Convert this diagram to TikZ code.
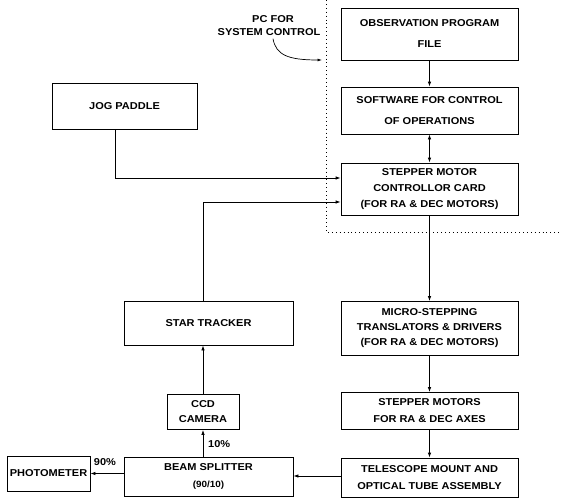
\documentclass[tikz,border=0pt]{standalone}
\usepackage{fontspec}
\setmainfont{Liberation Sans}[FakeStretch=1.1]
\usetikzlibrary{arrows.meta,calc}
\begin{document}
\begin{tikzpicture}[x=1pt,y=-1pt,
  box/.style={draw,line width=0.8pt,inner sep=0pt,align=center,font=\fontsize{10}{16}\selectfont\bfseries},
  lbl/.style={inner sep=0pt,align=center,font=\fontsize{10}{14}\selectfont\bfseries},
  arr/.style={line width=0.8pt,-{Latex[length=5pt,width=3.5pt]}},
  darr/.style={line width=0.8pt,{Latex[length=5pt,width=3.5pt]}-{Latex[length=5pt,width=3.5pt]}},
  dotline/.style={line width=0.9pt,dash pattern=on 0.9pt off 3pt}]
\useasboundingbox (0,0) rectangle (561,501);
% boxes
\node[box,minimum width=177pt,minimum height=52pt] (obs) at (429.5,34) {OBSERVATION PROGRAM\\[5pt]FILE};
\node[box,minimum width=177pt,minimum height=47pt] (soft) at (429.5,110.5) {SOFTWARE FOR CONTROL\\[5pt]OF OPERATIONS};
\node[box,minimum width=177pt,minimum height=52pt] (card) at (429.5,189) {STEPPER MOTOR\\CONTROLLOR CARD\\(FOR RA \& DEC MOTORS)};
\node[box,minimum width=145pt,minimum height=46pt] (jog) at (124.5,106) {JOG PADDLE};
\node[box,minimum width=169pt,minimum height=44pt] (star) at (208.5,323) {STAR TRACKER};
\node[box,minimum width=177pt,minimum height=54pt] (micro) at (429.5,328.5) {MICRO-STEPPING\\[-1pt]TRANSLATORS \& DRIVERS\\[-1pt](FOR RA \& DEC MOTORS)};
\node[box,minimum width=177pt,minimum height=37pt] (motors) at (429.5,411) {STEPPER MOTORS\\[1pt]FOR RA \& DEC AXES};
\node[box,minimum width=72pt,minimum height=35pt] (ccd) at (203,412) {CCD\\[-1pt]CAMERA};
\node[box,minimum width=177pt,minimum height=39pt] (tele) at (429.5,477.5) {TELESCOPE MOUNT AND\\[1pt]OPTICAL TUBE ASSEMBLY};
\node[box,minimum width=169pt,minimum height=39pt] (beam) at (208.5,476.5) {BEAM SPLITTER\\[1pt]{\fontsize{9}{10}\selectfont (90/10)}};
\node[box,minimum width=83pt,minimum height=35pt] (phot) at (48.5,473.5) {PHOTOMETER};
% labels
\node[lbl] (pc1) at (273,19) {PC FOR};
\node[lbl] (pc2) at (269,32) {SYSTEM CONTROL};
\node[lbl,anchor=west] (p10) at (208,444) {10\%};
\node[lbl] (p90) at (105,462) {90\%};
\coordinate (pcend) at (322,60);
% dotted boundary
\draw[dotline] (326,0) -- (326,232) -- (561,232);
% connectors
\draw[arr] (obs) -- (soft);
\draw[darr] (soft) -- (card);
\draw[arr] (card) -- (micro);
\draw[arr] (micro) -- (motors);
\draw[arr] (motors) -- (tele);
\draw[arr] (tele.west |- 0,476) -- (beam.east |- 0,476);
\draw[arr] (beam.west |- phot.east) -- (phot.east);
\draw[arr] (beam.north -| ccd.south) -- (ccd.south);
\draw[arr] (ccd.north) -- (ccd.north |- star.south);
\draw[arr] (ccd.north |- star.north) |- ($(card.west)+(0,13)$);
\draw[arr] ($(jog.south)+(-9,0)$) |- ($(card.west)+(0,-11)$);
\draw[line width=0.7pt,-{Latex[length=4.5pt,width=3pt]}] ($(pc2.south)+(4,3)$) .. controls (276,55) and (288,60) .. (pcend);
\end{tikzpicture}
\end{document}
